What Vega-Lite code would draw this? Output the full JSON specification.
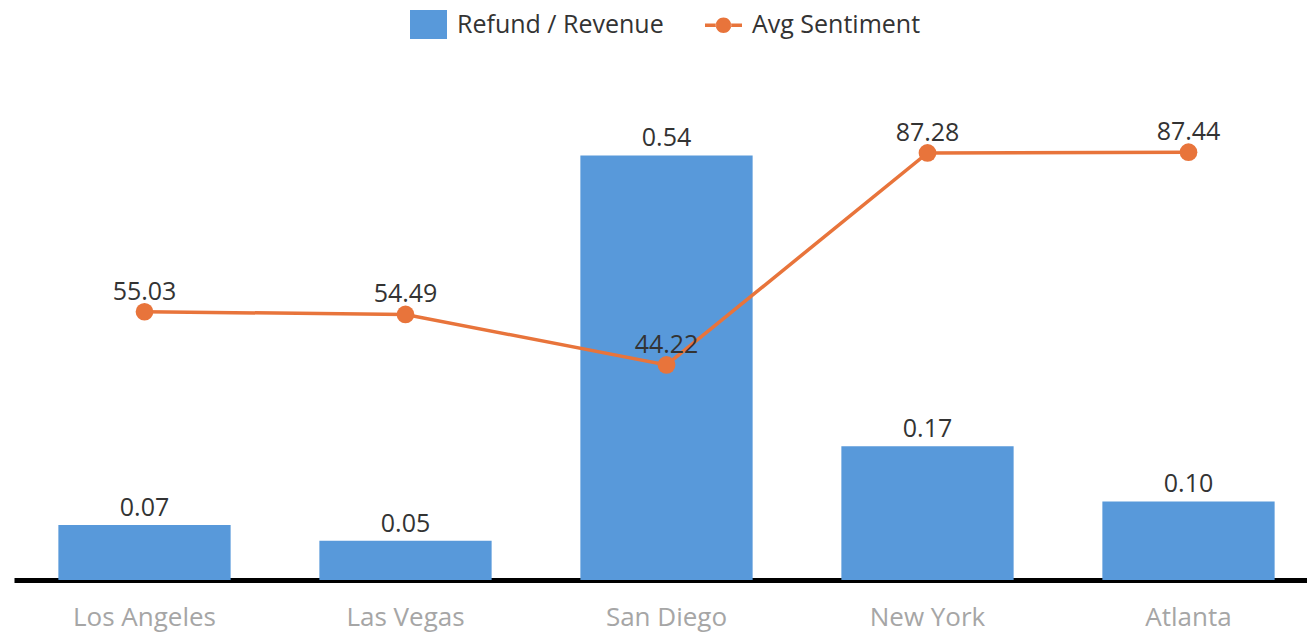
{
  "$schema": "https://vega.github.io/schema/vega-lite/v6.json",
  "width": 1305,
  "height": 500,
  "autosize": "none",
  "padding": {"left": 14, "top": 80, "right": 0, "bottom": 53},
  "background": "#ffffff",
  "config": {
    "view": {"stroke": null},
    "font": "Open Sans"
  },
  "data": {
    "values": [
      {"city": "Los Angeles", "refund": 0.07, "sentiment": 55.03},
      {"city": "Las Vegas", "refund": 0.05, "sentiment": 54.49},
      {"city": "San Diego", "refund": 0.54, "sentiment": 44.22},
      {"city": "New York", "refund": 0.17, "sentiment": 87.28},
      {"city": "Atlanta", "refund": 0.10, "sentiment": 87.44}
    ]
  },
  "encoding": {
    "x": {
      "field": "city",
      "type": "nominal",
      "sort": null,
      "scale": {"paddingInner": 0.34, "paddingOuter": 0.17},
      "axis": {
        "title": null,
        "labelAngle": 0,
        "ticks": false,
        "grid": false,
        "domainColor": "#000000",
        "domainWidth": 5,
        "labelColor": "#a6a6a6",
        "labelFontSize": 26,
        "labelPadding": 24,
        "labelFont": "Open Sans"
      }
    }
  },
  "layer": [
    {
      "encoding": {
        "y": {"field": "refund", "type": "quantitative", "scale": {"domain": [0, 0.636]}, "axis": null}
      },
      "layer": [
        {
          "mark": {"type": "bar"},
          "encoding": {
            "color": {
              "datum": "Refund / Revenue",
              "type": "nominal",
              "scale": {"domain": ["Refund / Revenue", "Avg Sentiment"], "range": ["#5899DA", "#E8743B"]},
              "legend": {
                "orient": "none",
                "legendX": 396,
                "legendY": -74,
                "direction": "horizontal",
                "title": null,
                "padding": 0,
                "labelFontSize": 25,
                "labelColor": "#333333",
                "labelFont": "Open Sans",
                "labelLimit": 0,
                "symbolSize": 1369,
                "labelOffset": 10,
                "columnPadding": 41,
                "encode": {
                  "symbols": {
                    "update": {
                      "shape": {"signal": "datum.value === 'Avg Sentiment' ? 'M-1,-0.1H-0.4V0.1H-1Z M0.4,-0.1H1V0.1H0.4Z M-0.42,0A0.42,0.42 0 1,0 0.42,0A0.42,0.42 0 1,0 -0.42,0Z' : 'M-1,-0.78H1V0.78H-1Z'"},
                      "fill": {"signal": "datum.value === 'Avg Sentiment' ? '#E8743B' : '#5899DA'"},
                      "stroke": {"value": "transparent"},
                      "strokeWidth": {"value": 0},
                      "opacity": {"value": 1},
                      "fillOpacity": {"value": 1}
                    }
                  }
                }
              }
            }
          }
        },
        {
          "mark": {"type": "text", "baseline": "alphabetic", "dy": -9, "fontSize": 25, "color": "#333333", "font": "Open Sans"},
          "encoding": {
            "text": {"field": "refund", "type": "quantitative", "format": ".2f"}
          }
        }
      ]
    },
    {
      "encoding": {
        "y": {"field": "sentiment", "type": "quantitative", "scale": {"domain": [0.55, 102.1], "zero": false}, "axis": null}
      },
      "layer": [
        {
          "mark": {"type": "line", "strokeWidth": 3.5, "point": {"size": 314, "filled": true, "opacity": 1}},
          "encoding": {
            "color": {"datum": "Avg Sentiment", "type": "nominal"}
          }
        },
        {
          "mark": {"type": "text", "baseline": "alphabetic", "dy": -12, "fontSize": 25, "color": "#333333", "font": "Open Sans"},
          "encoding": {
            "text": {"field": "sentiment", "type": "quantitative", "format": ".2f"}
          }
        }
      ]
    }
  ],
  "resolve": {"scale": {"y": "independent"}}
}
